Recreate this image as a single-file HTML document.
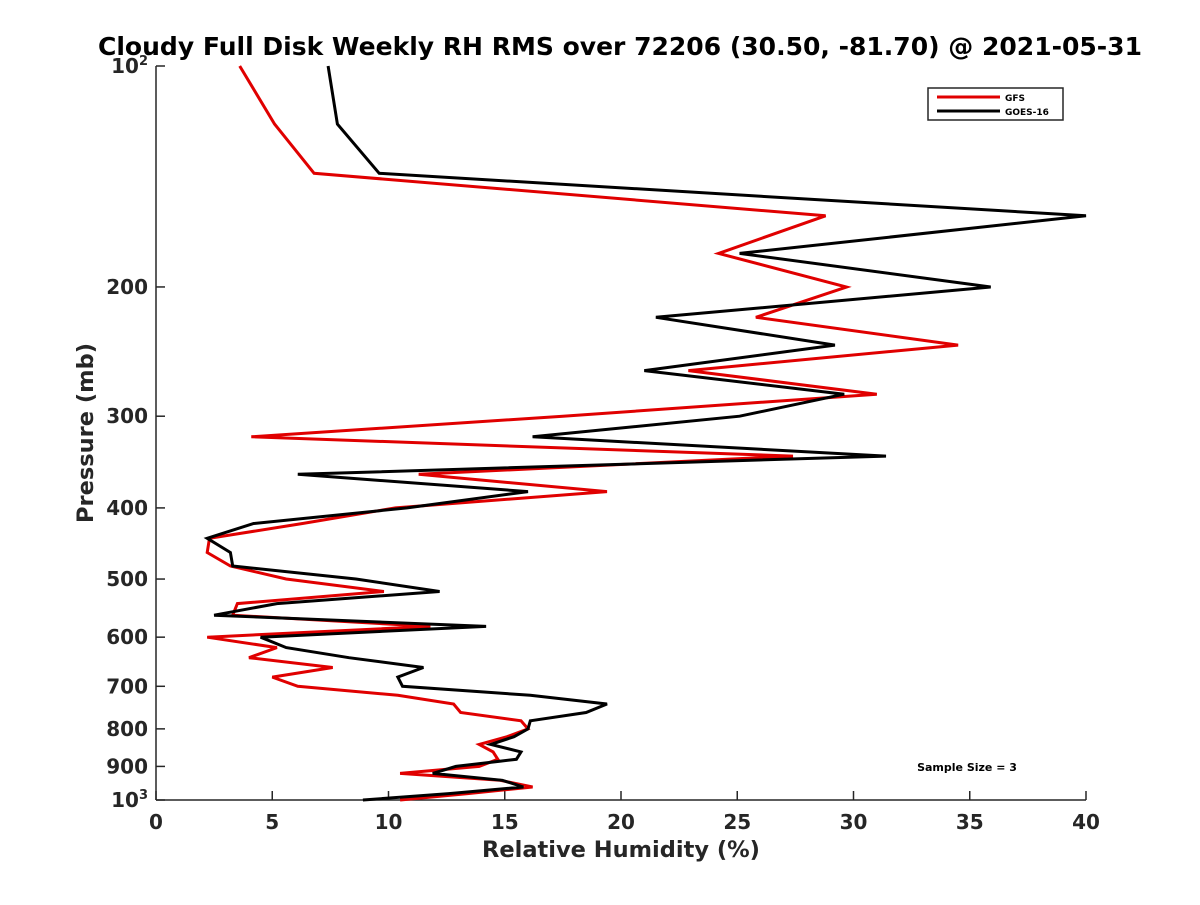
<!DOCTYPE html>
<html><head><meta charset="utf-8"><style>
body{margin:0;background:#fff;}
svg text{font-family:"DejaVu Sans","Liberation Sans",sans-serif;font-weight:bold;fill:#262626;}
</style></head><body>
<svg id="chart" width="1200" height="900" xmlns="http://www.w3.org/2000/svg">
<rect width="1200" height="900" fill="#fff"/>
<text x="620" y="55" text-anchor="middle" font-size="25" textLength="1044" lengthAdjust="spacingAndGlyphs" style="fill:#000">Cloudy Full Disk Weekly RH RMS over 72206 (30.50, -81.70) @ 2021-05-31</text>
<g id="axes"></g>
<g id="series"></g>
<text x="621" y="857" text-anchor="middle" font-size="22.5">Relative Humidity (%)</text>
<text transform="translate(93,433) rotate(-90)" text-anchor="middle" font-size="22.5">Pressure (mb)</text>
<g>
<rect x="928" y="88" width="135" height="32" fill="#fff" stroke="#262626" stroke-width="1.5"/>
<line x1="937" y1="97" x2="1000" y2="97" stroke="#e00000" stroke-width="3"/>
<text x="1005" y="101" font-size="9" style="fill:#000">GFS</text>
<line x1="937" y1="111" x2="1000" y2="111" stroke="#000" stroke-width="3"/>
<text x="1005" y="115" font-size="9" style="fill:#000">GOES-16</text>
</g>
<text x="967" y="771" text-anchor="middle" font-size="11" style="fill:#000">Sample Size = 3</text>
</svg>
<script>
const pressures=[100,120,140,160,180,200,220,240,260,280,300,320,340,360,380,400,420,440,460,480,500,520,540,560,580,600,620,640,660,680,700,720,740,760,780,800,820,840,860,880,900,920,940,960,980,1000];
const gfsRH=[3.6,5.1,6.8,28.8,24.2,29.7,25.8,34.5,22.9,31.0,17.5,4.1,27.4,11.3,19.4,10.3,6.3,2.3,2.2,3.2,5.6,9.8,3.5,3.3,11.8,2.2,5.2,4.0,7.6,5.0,6.1,10.4,12.8,13.1,15.7,16.0,15.1,13.9,14.5,14.7,13.9,10.5,14.8,16.2,13.4,10.5];
const goesRH=[7.4,7.8,9.6,40,25.1,35.9,21.5,29.2,21.0,29.6,25.1,16.2,31.4,6.1,16.0,10.8,4.2,2.2,3.2,3.3,8.6,12.2,5.2,2.5,14.2,4.5,5.6,8.3,11.5,10.4,10.6,16.1,19.4,18.5,16.1,16.0,15.4,14.4,15.7,15.5,12.9,11.9,14.9,15.8,12.6,8.9];
const xTicks=[0,5,10,15,20,25,30,35,40];
const yTicks=[100,200,300,400,500,600,700,800,900,1000];
const X0=156,X1=1086,Y0=66,Y1=800;
function xs(v){return X0+(v-0)/40*(X1-X0);}
function ys(p){return Y0+(Math.log10(p)-2)*(Y1-Y0);}
const NS="http://www.w3.org/2000/svg";
const axes=document.getElementById('axes'),ser=document.getElementById('series');
function mk(tag,attrs,parent){const e=document.createElementNS(NS,tag);for(const k in attrs)e.setAttribute(k,attrs[k]);parent.appendChild(e);return e;}
let l=mk('line',{x1:X0,y1:Y0,x2:X0,y2:Y1,stroke:'#262626','stroke-width':1.5},axes);


l=mk('line',{x1:X0,y1:Y1,x2:X1,y2:Y1,stroke:'#262626','stroke-width':1.5},axes);


xTicks.forEach(v=>{
 const t=mk('line',{x1:xs(v),y1:Y1,x2:xs(v),y2:Y1-9,stroke:'#262626','stroke-width':1.5},axes);
 
 
 const tx=mk('text',{x:xs(v),y:Y1+29,'text-anchor':'middle','font-size':20},axes);
 tx.textContent=v;
 
 
});
yTicks.forEach(p=>{
 const t=mk('line',{x1:X0,y1:ys(p),x2:X0+9,y2:ys(p),stroke:'#262626','stroke-width':1.5},axes);
 
 
 const tx=mk('text',{x:X0-8,y:ys(p)+7,'text-anchor':'end','font-size':20},axes);
 if(p===100||p===1000){tx.textContent='10';const s=mk('tspan',{dy:-8,'font-size':13},tx);s.textContent=p===100?'2':'3';}
 else tx.textContent=p;
 
 
});
function drawLine(vals,color,name){
 const d=vals.map((v,i)=>(i?'L':'M')+xs(v).toFixed(1)+','+ys(pressures[i]).toFixed(1)).join(' ');
 const p=mk('path',{d:d,fill:'none',stroke:color,'stroke-width':3,'stroke-linejoin':'miter'},ser);
 
 
}
drawLine(gfsRH,'#e00000','gfs-line');
drawLine(goesRH,'#000','goes16-line');
</script>
</body></html>
